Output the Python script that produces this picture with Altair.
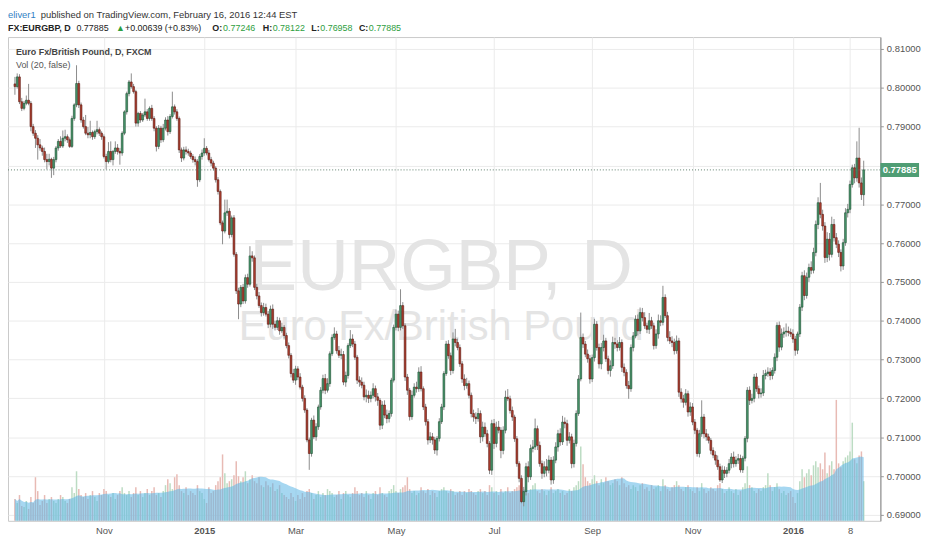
import altair as alt
import numpy as np
import pandas as pd

# ---- data (prices in pips, 1 pip = 0.0001) ----
OPEN = [
    8010, 8003, 8028, 7964, 7947, 7960, 7968, 7960, 7900, 7883,
    7870, 7853, 7845, 7836, 7815, 7810, 7816, 7793, 7815, 7845,
    7862, 7850, 7870, 7874, 7866, 7849, 7921, 7956, 8011, 7956,
    7917, 7900, 7883, 7879, 7885, 7874, 7887, 7892, 7883, 7874,
    7823, 7810, 7836, 7815, 7836, 7845, 7836, 7832, 7883, 7938,
    7985, 8015, 8003, 7990, 7909, 7934, 7917, 7930, 7938, 7921,
    7947, 7921, 7896, 7849, 7896, 7866, 7896, 7917, 7887, 7926,
    7951, 7938, 7921, 7840, 7819, 7840, 7836, 7832, 7823, 7815,
    7810, 7763, 7823, 7832, 7844, 7832, 7815, 7806, 7793, 7763,
    7733, 7652, 7631, 7678, 7682, 7622, 7665, 7571, 7477, 7443,
    7486, 7451, 7511, 7494, 7567, 7562, 7486, 7464, 7439, 7421,
    7434, 7417, 7391, 7430, 7391, 7383, 7400, 7374, 7383, 7362,
    7336, 7311, 7264, 7247, 7276, 7255, 7229, 7200, 7170, 7093,
    7058, 7144, 7101, 7127, 7178, 7221, 7251, 7221, 7238, 7315,
    7357, 7366, 7323, 7311, 7313, 7242, 7259, 7336, 7353, 7340,
    7306, 7247, 7242, 7234, 7204, 7208, 7200, 7208, 7225, 7204,
    7195, 7131, 7183, 7157, 7148, 7161, 7247, 7383, 7417, 7383,
    7439, 7387, 7255, 7221, 7153, 7208, 7229, 7225, 7268, 7225,
    7178, 7140, 7093, 7101, 7093, 7067, 7097, 7140, 7178, 7264,
    7340, 7310, 7272, 7353, 7344, 7331, 7289, 7250, 7233, 7238,
    7208, 7161, 7152, 7148, 7161, 7101, 7126, 7109, 7084, 7015,
    7135, 7084, 7126, 7118, 7066, 7118, 7203, 7199, 7169, 7152,
    7096, 7032, 6994, 6934, 6960, 7024, 6998, 7071, 7075, 7122,
    7079, 7032, 7007, 7024, 7015, 7041, 6990, 7041, 7075, 7109,
    7088, 7139, 7135, 7092, 7101, 7032, 7084, 7161, 7250, 7357,
    7340, 7314, 7302, 7250, 7305, 7391, 7331, 7289, 7331, 7348,
    7302, 7272, 7284, 7344, 7340, 7331, 7344, 7280, 7267, 7233,
    7225, 7331, 7361, 7404, 7374, 7421, 7408, 7387, 7378, 7400,
    7387, 7336, 7366, 7400, 7396, 7460, 7413, 7357, 7348, 7344,
    7323, 7348, 7216, 7199, 7190, 7212, 7165, 7178, 7139, 7118,
    7058, 7109, 7152, 7109, 7101, 7092, 7066, 7054, 7041, 7024,
    6990, 7015, 7007, 7015, 7032, 7049, 7032, 7041, 7045, 7016,
    7046, 7097, 7221, 7195, 7200, 7255, 7225, 7212, 7214, 7259,
    7264, 7268, 7259, 7272, 7306, 7388, 7332, 7366, 7371, 7373,
    7370, 7366, 7353, 7324, 7366, 7435, 7516, 7465, 7512, 7537,
    7530, 7576, 7648, 7704, 7674, 7644, 7563, 7610, 7571, 7648,
    7614, 7597, 7576, 7541, 7601, 7678, 7687, 7751, 7794, 7768,
    7819, 7755, 7724.6,
]

CLOSE = [
    8003, 8028, 7964, 7947, 7960, 7968, 7960, 7900, 7883, 7870,
    7853, 7845, 7836, 7815, 7810, 7816, 7793, 7815, 7845, 7862,
    7850, 7870, 7874, 7866, 7849, 7921, 7956, 8011, 7956, 7917,
    7900, 7883, 7879, 7885, 7874, 7887, 7892, 7883, 7874, 7823,
    7810, 7836, 7815, 7836, 7845, 7836, 7832, 7883, 7938, 7985,
    8015, 8003, 7990, 7909, 7934, 7917, 7930, 7938, 7921, 7947,
    7921, 7896, 7849, 7896, 7866, 7896, 7917, 7887, 7926, 7951,
    7938, 7921, 7840, 7819, 7840, 7836, 7832, 7823, 7815, 7810,
    7763, 7823, 7832, 7844, 7832, 7815, 7806, 7793, 7763, 7733,
    7652, 7631, 7678, 7682, 7622, 7665, 7571, 7477, 7443, 7486,
    7451, 7511, 7494, 7567, 7562, 7486, 7464, 7439, 7421, 7434,
    7417, 7391, 7430, 7391, 7383, 7400, 7374, 7383, 7362, 7336,
    7311, 7264, 7247, 7276, 7255, 7229, 7200, 7170, 7093, 7058,
    7144, 7101, 7127, 7178, 7221, 7251, 7221, 7238, 7315, 7357,
    7366, 7323, 7311, 7313, 7242, 7259, 7336, 7353, 7340, 7306,
    7247, 7242, 7234, 7204, 7208, 7200, 7208, 7225, 7204, 7195,
    7131, 7183, 7157, 7148, 7161, 7247, 7383, 7417, 7383, 7439,
    7387, 7255, 7221, 7153, 7208, 7229, 7225, 7268, 7225, 7178,
    7140, 7093, 7101, 7093, 7067, 7097, 7140, 7178, 7264, 7340,
    7310, 7272, 7353, 7344, 7331, 7289, 7250, 7233, 7238, 7208,
    7161, 7152, 7148, 7161, 7101, 7126, 7109, 7084, 7015, 7135,
    7084, 7126, 7118, 7066, 7118, 7203, 7199, 7169, 7152, 7096,
    7032, 6994, 6934, 6960, 7024, 6998, 7071, 7075, 7122, 7079,
    7032, 7007, 7024, 7015, 7041, 6990, 7041, 7075, 7109, 7088,
    7139, 7135, 7092, 7101, 7032, 7084, 7161, 7250, 7357, 7340,
    7314, 7302, 7250, 7305, 7391, 7331, 7289, 7331, 7348, 7302,
    7272, 7284, 7344, 7340, 7331, 7344, 7280, 7267, 7233, 7225,
    7331, 7361, 7404, 7374, 7421, 7408, 7387, 7378, 7400, 7387,
    7336, 7366, 7400, 7396, 7460, 7413, 7357, 7348, 7344, 7323,
    7348, 7216, 7199, 7190, 7212, 7165, 7178, 7139, 7118, 7058,
    7109, 7152, 7109, 7101, 7092, 7066, 7054, 7041, 7024, 6990,
    7015, 7007, 7015, 7032, 7049, 7032, 7041, 7045, 7016, 7046,
    7097, 7221, 7195, 7200, 7255, 7225, 7212, 7214, 7259, 7264,
    7268, 7259, 7272, 7306, 7388, 7332, 7366, 7371, 7373, 7370,
    7366, 7353, 7324, 7366, 7435, 7516, 7465, 7512, 7537, 7530,
    7576, 7648, 7704, 7674, 7644, 7563, 7610, 7571, 7648, 7614,
    7597, 7576, 7541, 7601, 7678, 7687, 7751, 7794, 7768, 7819,
    7755, 7725, 7788.5,
]

# wick lengths beyond the candle body (pips)
UPPER_WICK = [
    18, 9, 7, 10, 6, 12, 42, 6, 7, 8,
    8, 15, 6, 10, 15, 14, 4, 7, 5, 6,
    13, 20, 18, 6, 6, 7, 4, 47, 7, 6,
    8, 30, 16, 30, 5, 5, 23, 6, 5, 6,
    7, 24, 26, 4, 17, 10, 9, 5, 4, 5,
    5, 22, 7, 5, 4, 6, 5, 34, 7, 5,
    9, 6, 5, 8, 6, 11, 7, 10, 6, 39,
    6, 7, 5, 6, 8, 9, 7, 6, 6, 8,
    6, 6, 9, 26, 6, 8, 7, 6, 5, 7,
    5, 6, 34, 30, 8, 6, 7, 6, 8, 6,
    9, 8, 10, 25, 12, 6, 9, 10, 8, 12,
    10, 8, 9, 12, 9, 10, 8, 12, 6, 7,
    8, 6, 12, 8, 7, 10, 6, 8, 5, 6,
    6, 12, 9, 6, 8, 10, 12, 14, 6, 8,
    17, 8, 12, 15, 9, 10, 6, 23, 12, 8,
    6, 10, 12, 9, 15, 12, 10, 14, 8, 10,
    6, 10, 12, 14, 8, 6, 7, 12, 9, 42,
    9, 6, 8, 6, 12, 10, 14, 12, 15, 6,
    8, 7, 12, 10, 8, 6, 9, 8, 6, 8,
    10, 8, 17, 26, 10, 8, 7, 12, 15, 8,
    7, 10, 12, 14, 8, 14, 12, 10, 6, 10,
    12, 14, 16, 8, 10, 17, 21, 8, 10, 6,
    7, 6, 8, 12, 10, 14, 10, 18, 26, 8,
    10, 8, 14, 20, 12, 8, 10, 12, 10, 14,
    16, 12, 10, 12, 8, 10, 8, 10, 64, 10,
    8, 12, 10, 8, 14, 8, 10, 12, 16, 8,
    8, 14, 15, 12, 10, 14, 8, 10, 8, 12,
    8, 10, 10, 12, 13, 12, 14, 8, 20, 10,
    8, 12, 16, 14, 30, 8, 10, 16, 12, 10,
    14, 8, 10, 10, 12, 8, 12, 10, 8, 6,
    10, 43, 8, 12, 8, 6, 8, 10, 12, 8,
    12, 10, 8, 12, 10, 14, 10, 12, 10, 6,
    6, 8, 10, 12, 8, 10, 8, 12, 14, 10,
    12, 10, 8, 10, 8, 10, 14, 12, 20, 12,
    10, 12, 8, 6, 8, 10, 14, 12, 10, 16,
    12, 10, 14, 51, 12, 10, 18, 16, 20, 14,
    12, 10, 8, 10, 12, 14, 10, 8, 10, 43,
    78, 14, 23.7,
]

LOWER_WICK = [
    21, 5, 6, 7, 5, 5, 5, 12, 7, 25,
    38, 7, 11, 7, 20, 10, 25, 18, 7, 7,
    5, 5, 8, 8, 4, 4, 6, 6, 8, 7,
    5, 5, 9, 9, 8, 6, 7, 7, 8, 5,
    20, 5, 7, 15, 6, 8, 30, 7, 5, 7,
    7, 5, 5, 9, 9, 7, 5, 5, 6, 6,
    6, 8, 13, 7, 8, 6, 6, 10, 6, 5,
    7, 6, 8, 10, 6, 8, 7, 6, 8, 10,
    18, 6, 8, 7, 6, 5, 8, 6, 7, 8,
    6, 34, 6, 8, 10, 7, 6, 8, 39, 8,
    8, 7, 9, 6, 10, 7, 9, 6, 10, 8,
    6, 10, 8, 12, 8, 7, 10, 6, 8, 7,
    8, 10, 7, 12, 8, 6, 8, 7, 6, 42,
    8, 6, 10, 8, 7, 8, 10, 6, 8, 6,
    6, 8, 7, 10, 8, 12, 8, 6, 8, 7,
    10, 12, 8, 9, 14, 12, 10, 8, 12, 14,
    12, 10, 8, 12, 10, 8, 6, 8, 10, 8,
    8, 10, 12, 10, 8, 6, 10, 8, 7, 8,
    10, 12, 8, 12, 10, 14, 8, 6, 8, 6,
    8, 12, 8, 10, 7, 8, 10, 12, 8, 8,
    10, 12, 14, 8, 16, 12, 8, 10, 10, 12,
    14, 10, 8, 20, 10, 8, 6, 8, 10, 8,
    8, 10, 4, 12, 10, 14, 8, 10, 8, 12,
    8, 14, 10, 16, 8, 12, 10, 8, 12, 10,
    8, 12, 14, 8, 12, 10, 8, 6, 6, 10,
    8, 10, 12, 8, 10, 8, 12, 14, 10, 8,
    10, 16, 8, 12, 10, 8, 12, 10, 8, 26,
    8, 10, 6, 12, 8, 10, 8, 10, 12, 8,
    10, 8, 12, 10, 8, 6, 10, 8, 12, 10,
    8, 12, 10, 14, 8, 12, 10, 8, 10, 8,
    10, 8, 12, 10, 8, 10, 8, 12, 8, 5,
    8, 12, 10, 8, 12, 10, 8, 10, 7, 8,
    8, 10, 12, 8, 10, 8, 12, 10, 8, 10,
    8, 12, 10, 8, 10, 12, 8, 10, 12, 10,
    8, 10, 14, 10, 8, 10, 12, 8, 12, 10,
    8, 10, 12, 10, 12, 14, 12, 16, 8, 10,
    10, 12, 14, 10, 8, 12, 10, 8, 14, 10,
    12, 14, 28.8,
]

VOLUME = [
    22, 18, 26, 15, 14, 20, 12, 24, 18, 44,
    30, 16, 20, 26, 18, 22, 24, 20, 18, 22,
    26, 24, 20, 18, 22, 34, 28, 50, 32, 26,
    24, 28, 22, 26, 30, 24, 20, 28, 26, 32,
    30, 26, 24, 28, 22, 26, 30, 34, 28, 26,
    30, 24, 28, 34, 26, 30, 24, 28, 32, 26,
    30, 34, 26, 28, 24, 30, 36, 42, 38, 32,
    44, 47, 36, 30, 28, 34, 26, 30, 28, 26,
    36, 30, 28, 22, 18, 34, 28, 30, 36, 40,
    44, 67, 48, 38, 40, 42, 46, 60, 45, 40,
    44, 50, 38, 42, 46, 40, 38, 44, 36, 34,
    40, 36, 34, 38, 30, 32, 36, 28, 26, 24,
    22, 28, 24, 20, 26, 22, 28, 24, 30, 32,
    28, 22, 26, 30, 24, 28, 26, 32, 30, 28,
    24, 26, 30, 22, 28, 30, 26, 24, 28, 34,
    30, 26, 28, 24, 30, 26, 22, 28, 30, 26,
    34, 28, 26, 24, 30, 32, 36, 30, 28, 32,
    34, 36, 44, 32, 28, 30, 26, 28, 34, 30,
    28, 32, 26, 30, 28, 24, 30, 32, 34, 30,
    28, 32, 30, 26, 28, 30, 26, 30, 28, 32,
    30, 28, 26, 30, 32, 28, 30, 26, 36, 34,
    28, 30, 26, 32, 28, 30, 34, 28, 30, 32,
    34, 36, 38, 32, 30, 28, 32, 36, 38, 30,
    28, 32, 30, 26, 30, 34, 28, 30, 32, 28,
    30, 26, 28, 32, 30, 34, 36, 40, 75, 57,
    44, 40, 38, 42, 46, 40, 36, 42, 38, 44,
    40, 36, 38, 42, 40, 36, 44, 38, 34, 36,
    32, 36, 34, 30, 36, 38, 32, 34, 30, 36,
    32, 34, 36, 30, 42, 36, 32, 30, 34, 36,
    40, 36, 32, 30, 34, 36, 32, 30, 28, 34,
    30, 38, 32, 28, 30, 34, 32, 30, 36, 38,
    32, 28, 30, 34, 30, 28, 32, 26, 30, 34,
    38, 55, 36, 34, 30, 28, 32, 30, 34, 36,
    48, 36, 30, 34, 38, 32, 28, 30, 26, 28,
    30, 24, 18, 28, 40, 52, 44, 48, 52, 46,
    56, 60, 54, 58, 52, 69, 48, 56, 60, 52,
    122, 58, 54, 60, 64, 66, 70, 99, 62, 58,
    66, 70, 40,
]

TICK_POS = [39, 83, 123, 167, 210, 253, 297, 341, 366]
TICK_LABELS = ["Nov", "2015", "Mar", "May", "Jul", "Sep", "Nov", "2016", "8"]
YEAR_LABELS = ["2015", "2016"]
PRICE_TICKS = [0.69, 0.70, 0.71, 0.72, 0.73, 0.74, 0.75, 0.76, 0.77, 0.78, 0.79, 0.80, 0.81]
HIDDEN_PRICE_LABEL = 0.78  # covered by the last-price tag in the reference

# ---- table ----
o = np.array(OPEN, dtype=float) / 1e4
c = np.array(CLOSE, dtype=float) / 1e4
h = np.maximum(o, c) + np.array(UPPER_WICK, dtype=float) / 1e4
l = np.minimum(o, c) - np.array(LOWER_WICK, dtype=float) / 1e4
df = pd.DataFrame({
    "i": np.arange(len(CLOSE)),
    "o": o, "c": c, "h": h, "l": l,
    "v": np.array(VOLUME, dtype=float),
})
df["dir"] = np.where(df["c"] >= df["o"], "up", "down")
last = df.iloc[[-1]].copy()

FONT = "Liberation Sans"
W, H = 880, 488

label_expr = "".join(
    f"datum.value == {p} ? '{t}' : " for p, t in zip(TICK_POS, TICK_LABELS)
) + "''"
bold_test = " || ".join(
    f"datum.value == {p}" for p, t in zip(TICK_POS, TICK_LABELS) if t in YEAR_LABELS
)

xscale = alt.Scale(domain=[-0.86, 377.14], nice=False, zero=False)
xaxis = alt.Axis(
    values=TICK_POS, labelExpr=label_expr, grid=True, gridColor="#ebebeb",
    ticks=False, domain=False, labelPadding=5, labelFontSize=9.5,
    labelColor="#555555", labelFont=FONT, title=None,
    labelFontWeight={"condition": {"test": bold_test, "value": "bold"}, "value": "normal"},
)
X = alt.X("i:Q", scale=xscale, axis=xaxis)

yscale = alt.Scale(domain=[0.688468, 0.813064], nice=False, zero=False)
yaxis = alt.Axis(
    orient="right", values=PRICE_TICKS, grid=True, gridColor="#ebebeb",
    labelExpr=f"abs(datum.value - {HIDDEN_PRICE_LABEL}) < 0.0001 ? '' : format(datum.value, '.5f')",
    tickSize=3, tickColor="#999999", domain=True, domainColor="#8a8a8a",
    labelPadding=3, labelFontSize=9.5, labelColor="#555555", labelFont=FONT, title=None,
)
vscale = alt.Scale(domain=[0, H], nice=False, zero=True)

base = alt.Chart(df)
is_up = "datum.dir == 'up'"

# volume pane
vol_bars = base.mark_bar(size=1.5).encode(
    x=X,
    y=alt.Y("v:Q", scale=vscale, axis=None),
    color=alt.condition(is_up, alt.value("#bcdcc3"), alt.value("#e8bab4")),
)
vol_ma = base.transform_window(
    ma="mean(v)", frame=[-19, 0], sort=[alt.SortField("i", order="ascending")]
).mark_area(color="#5cb6e6", opacity=0.55).encode(
    x=X, y=alt.Y("ma:Q", scale=vscale, axis=None)
)
vol_group = alt.layer(vol_bars, vol_ma)

# candles
wicks = base.mark_rule(color="#8c8c8c", strokeWidth=1).encode(
    x=X, y=alt.Y("l:Q", scale=yscale, axis=yaxis), y2="h:Q"
)
bodies = base.mark_bar(size=1.8, strokeWidth=0.6).encode(
    x=X,
    y=alt.Y("o:Q", scale=yscale, axis=yaxis),
    y2="c:Q",
    color=alt.condition(is_up, alt.value("#4a9a6e"), alt.value("#b04030")),
    stroke=alt.condition(is_up, alt.value("#1f4d33"), alt.value("#5b1a13")),
)
last_base = alt.Chart(last)
price_line = last_base.mark_rule(color="#5f7f6d", strokeDash=[1, 2], strokeWidth=1).encode(
    y=alt.Y("c:Q", scale=yscale, axis=yaxis)
)
tag_rect = last_base.transform_calculate(
    t="datum.c + 0.0018", b="datum.c - 0.0018"
).mark_rect(color="#4f9d74").encode(
    x=alt.value(W), x2=alt.value(W + 39),
    y=alt.Y("t:Q", scale=yscale, axis=yaxis), y2="b:Q",
)
tag_text = last_base.mark_text(
    color="white", fontSize=9.5, fontWeight="bold", font=FONT, align="center", baseline="middle"
).encode(
    x=alt.value(W + 19.5),
    y=alt.Y("c:Q", scale=yscale, axis=yaxis),
    text=alt.Text("c:Q", format=".5f"),
)
price_group = alt.layer(wicks, bodies, price_line, tag_rect, tag_text)

one = pd.DataFrame({"k": [0]})


def label(txt, x, y, size=9, weight="normal", color="#333333", align="left"):
    return alt.Chart(one).mark_text(
        text=txt, fontSize=size, fontWeight=weight, color=color, align=align,
        baseline="alphabetic", font=FONT,
    ).encode(x=alt.value(x), y=alt.value(y))


GREEN = "#2e9e3e"
watermark = [
    label("EURGBP, D", 437, 255, size=72, color="#e4e4e4", align="center"),
    label("Euro Fx/British Pound", 437, 306, size=42, color="#e4e4e4", align="center"),
]
texts = [
    label("eliver1", 0, -19, size=9.5, color="#2f7fc4"),
    label("published on TradingView.com, February 16, 2016 12:44 EST", 33, -19, size=9.5, color="#333333"),
    label("FX:EURGBP, D", 0, -6, weight="bold", color="#222222"),
    label("0.77885", 69, -6, color="#222222"),
    label("\u25b2", 109, -6, color=GREEN),
    label("+0.00639 (+0.83%)", 118, -6, color="#222222"),
    label("O:", 206, -6, weight="bold", color="#222222"),
    label("0.77246", 217, -6, color=GREEN),
    label("H:", 257, -6, weight="bold", color="#222222"),
    label("0.78122", 267, -6, color=GREEN),
    label("L:", 306, -6, weight="bold", color="#222222"),
    label("0.76958", 315, -6, color=GREEN),
    label("C:", 354, -6, weight="bold", color="#222222"),
    label("0.77885", 364, -6, color=GREEN),
    label("Euro Fx/British Pound, D, FXCM", 8, 18, weight="bold", color="#444444"),
    label("Vol (20, false)", 8, 31, color="#555555"),
]

chart = alt.layer(
    *watermark, vol_group, price_group, *texts
).resolve_scale(
    y="independent"
).properties(
    width=W, height=H,
    padding={"left": 0, "top": 27, "right": 44, "bottom": 14},
    autosize=alt.AutoSizeParams(type="none"),
    background="white",
).configure_view(
    stroke="#c9c9c9", strokeWidth=1
)

chart.save("out.html", embed_options={"renderer": "svg", "actions": False})
